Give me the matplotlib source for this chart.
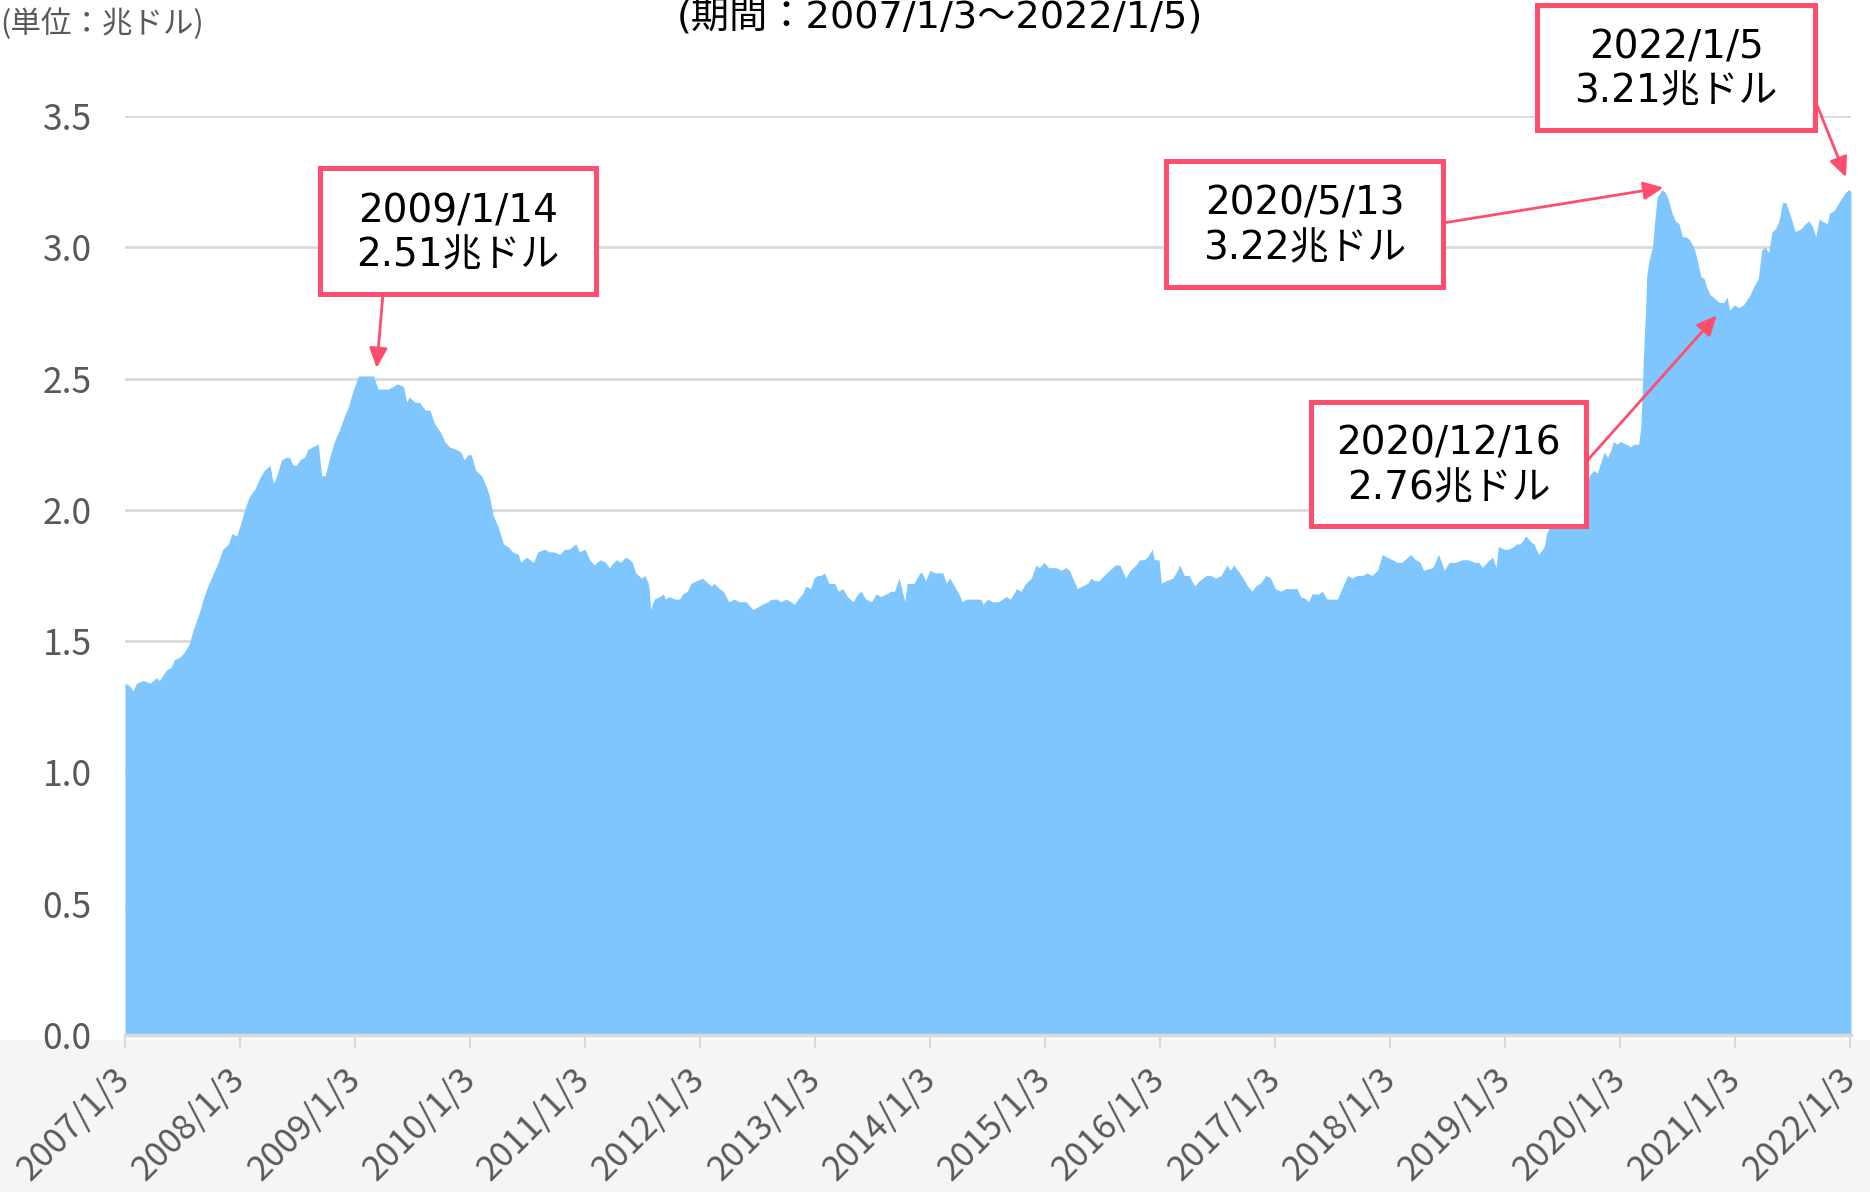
import numpy as np
import pandas as pd
import matplotlib
matplotlib.use("Agg")
import matplotlib.pyplot as plt
import matplotlib.dates as mdates
from matplotlib.patches import Rectangle
from matplotlib.transforms import offset_copy

plt.rcParams['font.family'] = ['Noto Sans CJK JP', 'DejaVu Sans']

# 週次の資産残高（兆ドル）: 位置は年（2007/1/3起点の年数を小数で）
years = np.array([
    2007.00, 2007.04, 2007.07, 2007.10, 2007.16, 2007.22, 2007.27, 2007.30, 2007.36, 2007.40, 2007.43, 2007.48,
    2007.52, 2007.56, 2007.59, 2007.64, 2007.68, 2007.72, 2007.77, 2007.81, 2007.85, 2007.90, 2007.93, 2007.97,
    2008.00, 2008.04, 2008.08, 2008.13, 2008.17, 2008.21, 2008.26, 2008.29, 2008.32, 2008.36, 2008.40, 2008.43,
    2008.46, 2008.49, 2008.52, 2008.56, 2008.59, 2008.63, 2008.68, 2008.71, 2008.74, 2008.78, 2008.82, 2008.87,
    2008.91, 2008.94, 2008.98,
    2009.03, 2009.07, 2009.11, 2009.16, 2009.20, 2009.24, 2009.29, 2009.33, 2009.37, 2009.42, 2009.45, 2009.47,
    2009.52, 2009.56, 2009.61, 2009.65, 2009.69, 2009.72, 2009.75, 2009.78, 2009.82, 2009.88, 2009.92, 2009.95,
    2009.98,
    2010.01, 2010.05, 2010.10, 2010.14, 2010.17, 2010.20, 2010.24, 2010.29, 2010.33, 2010.37, 2010.42, 2010.44,
    2010.49, 2010.55, 2010.59, 2010.65, 2010.69, 2010.73, 2010.78, 2010.82, 2010.86, 2010.92, 2010.95,
    2011.00, 2011.04, 2011.08, 2011.13, 2011.18, 2011.21, 2011.27, 2011.31, 2011.35, 2011.39, 2011.41, 2011.44,
    2011.49, 2011.52, 2011.55, 2011.56, 2011.57, 2011.60, 2011.65, 2011.68, 2011.70, 2011.73, 2011.78, 2011.82,
    2011.85, 2011.89, 2011.92, 2011.97,
    2012.02, 2012.07, 2012.10, 2012.12, 2012.17, 2012.20, 2012.25, 2012.30, 2012.34, 2012.40, 2012.46, 2012.50,
    2012.54, 2012.59, 2012.62, 2012.67, 2012.70, 2012.75, 2012.79, 2012.82, 2012.85, 2012.89, 2012.92, 2012.96,
    2012.99,
    2013.02, 2013.05, 2013.08, 2013.12, 2013.17, 2013.20, 2013.24, 2013.28, 2013.33, 2013.37, 2013.40, 2013.44,
    2013.49, 2013.53, 2013.57, 2013.62, 2013.66, 2013.69, 2013.73, 2013.78, 2013.80, 2013.86, 2013.91, 2013.93,
    2013.96,
    2014.00, 2014.04, 2014.08, 2014.11, 2014.14, 2014.17, 2014.21, 2014.25, 2014.28, 2014.31, 2014.35, 2014.40,
    2014.44, 2014.46, 2014.50, 2014.54, 2014.59, 2014.63, 2014.66, 2014.70, 2014.75, 2014.79, 2014.83, 2014.88,
    2014.92, 2014.95, 2014.99,
    2015.03, 2015.09, 2015.14, 2015.18, 2015.21, 2015.24, 2015.28, 2015.32, 2015.37, 2015.40, 2015.43, 2015.47,
    2015.51, 2015.56, 2015.61, 2015.65, 2015.70, 2015.74, 2015.79, 2015.82, 2015.86, 2015.89, 2015.93, 2015.95,
    2015.99,
    2016.01, 2016.05, 2016.11, 2016.15, 2016.17, 2016.21, 2016.25, 2016.30, 2016.34, 2016.40, 2016.44, 2016.48,
    2016.53, 2016.58, 2016.61, 2016.64, 2016.69, 2016.72, 2016.76, 2016.80, 2016.83, 2016.87, 2016.92, 2016.96,
    2017.00, 2017.05, 2017.09, 2017.15, 2017.19, 2017.22, 2017.27, 2017.29, 2017.32, 2017.38, 2017.41, 2017.45,
    2017.50, 2017.54, 2017.58, 2017.63, 2017.67, 2017.71, 2017.76, 2017.80, 2017.84, 2017.89, 2017.93, 2017.97,
    2018.02, 2018.06, 2018.10, 2018.18, 2018.22, 2018.26, 2018.29, 2018.37, 2018.42, 2018.47, 2018.51, 2018.57,
    2018.63, 2018.68, 2018.73, 2018.77, 2018.80, 2018.84, 2018.89, 2018.92, 2018.94, 2018.99,
    2019.03, 2019.07, 2019.10, 2019.13, 2019.18, 2019.22, 2019.25, 2019.29, 2019.34, 2019.36, 2019.41, 2019.47,
    2019.52, 2019.58, 2019.70, 2019.73, 2019.77, 2019.80, 2019.83, 2019.86, 2019.89, 2019.92, 2019.94, 2019.97,
    2020.00, 2020.05, 2020.09, 2020.12, 2020.16, 2020.18, 2020.19, 2020.20, 2020.22, 2020.23, 2020.25, 2020.28,
    2020.30, 2020.32, 2020.35, 2020.36, 2020.39, 2020.42, 2020.45, 2020.48, 2020.51, 2020.54, 2020.57, 2020.60,
    2020.64, 2020.67, 2020.70, 2020.73, 2020.75, 2020.78, 2020.81, 2020.86, 2020.90, 2020.93, 2020.95, 2020.99,
    2021.03, 2021.07, 2021.10, 2021.13, 2021.16, 2021.20, 2021.23, 2021.26, 2021.29, 2021.32, 2021.35, 2021.38,
    2021.41, 2021.44, 2021.48, 2021.52, 2021.57, 2021.61, 2021.64, 2021.67, 2021.70, 2021.73, 2021.75, 2021.80,
    2021.82, 2021.86, 2021.90, 2021.93, 2021.96, 2021.99, 2022.006,
])
assets = np.array([
    1.34, 1.33, 1.31, 1.34, 1.35, 1.34, 1.36, 1.35, 1.39, 1.40, 1.43, 1.44,
    1.46, 1.49, 1.54, 1.60, 1.66, 1.71, 1.76, 1.80, 1.85, 1.87, 1.91, 1.90,
    1.94, 2.00, 2.05, 2.08, 2.12, 2.15, 2.17, 2.10, 2.13, 2.19, 2.20, 2.20,
    2.17, 2.17, 2.19, 2.20, 2.23, 2.24, 2.25, 2.13, 2.13, 2.20, 2.26, 2.31,
    2.36, 2.39, 2.45,
    2.51, 2.51, 2.51, 2.51, 2.46, 2.46, 2.46, 2.47, 2.48, 2.47, 2.41, 2.43,
    2.41, 2.41, 2.38, 2.38, 2.33, 2.31, 2.29, 2.26, 2.24, 2.23, 2.22, 2.19,
    2.21,
    2.21, 2.15, 2.13, 2.09, 2.05, 1.98, 1.94, 1.87, 1.86, 1.84, 1.83, 1.80,
    1.82, 1.80, 1.84, 1.85, 1.84, 1.84, 1.83, 1.85, 1.85, 1.87, 1.84,
    1.85, 1.81, 1.79, 1.81, 1.80, 1.78, 1.81, 1.80, 1.82, 1.81, 1.80, 1.76,
    1.74, 1.75, 1.72, 1.69, 1.62, 1.66, 1.67, 1.68, 1.66, 1.67, 1.66, 1.66,
    1.68, 1.69, 1.72, 1.73,
    1.74, 1.72, 1.71, 1.72, 1.70, 1.69, 1.65, 1.66, 1.65, 1.65, 1.62, 1.63,
    1.64, 1.65, 1.66, 1.66, 1.65, 1.66, 1.65, 1.64, 1.66, 1.68, 1.71, 1.70,
    1.74,
    1.75, 1.75, 1.76, 1.72, 1.72, 1.69, 1.70, 1.67, 1.65, 1.68, 1.69, 1.66,
    1.65, 1.68, 1.67, 1.68, 1.69, 1.69, 1.74, 1.65, 1.72, 1.72, 1.76, 1.76,
    1.73,
    1.77, 1.76, 1.76, 1.76, 1.72, 1.74, 1.71, 1.68, 1.65, 1.66, 1.66, 1.66,
    1.66, 1.64, 1.66, 1.65, 1.65, 1.66, 1.67, 1.66, 1.70, 1.69, 1.72, 1.74,
    1.79, 1.78, 1.80,
    1.78, 1.78, 1.77, 1.78, 1.77, 1.74, 1.70, 1.71, 1.72, 1.74, 1.73, 1.73,
    1.75, 1.77, 1.79, 1.79, 1.74, 1.77, 1.79, 1.81, 1.81, 1.82, 1.85, 1.81,
    1.81,
    1.72, 1.73, 1.74, 1.77, 1.79, 1.75, 1.75, 1.71, 1.73, 1.75, 1.75, 1.74,
    1.75, 1.79, 1.77, 1.79, 1.76, 1.74, 1.71, 1.69, 1.71, 1.72, 1.75, 1.74,
    1.70, 1.69, 1.70, 1.70, 1.70, 1.67, 1.66, 1.65, 1.68, 1.68, 1.69, 1.66,
    1.66, 1.66, 1.70, 1.75, 1.74, 1.75, 1.75, 1.76, 1.75, 1.77, 1.83, 1.82,
    1.81, 1.80, 1.80, 1.83, 1.81, 1.80, 1.77, 1.78, 1.83, 1.77, 1.80, 1.80,
    1.81, 1.81, 1.80, 1.80, 1.78, 1.80, 1.82, 1.78, 1.86, 1.85,
    1.85, 1.86, 1.87, 1.87, 1.90, 1.88, 1.87, 1.83, 1.86, 1.91, 1.96, 2.01,
    2.06, 2.10, 2.08, 2.13, 2.15, 2.14, 2.18, 2.22, 2.20, 2.23, 2.26, 2.25,
    2.26, 2.25, 2.24, 2.25, 2.25, 2.32, 2.44, 2.57, 2.76, 2.89, 2.95, 3.00,
    3.10, 3.19, 3.21, 3.22, 3.21, 3.18, 3.13, 3.10, 3.09, 3.04, 3.04, 3.03,
    3.00, 2.95, 2.89, 2.88, 2.85, 2.82, 2.81, 2.79, 2.79, 2.81, 2.76, 2.78,
    2.77, 2.78, 2.80, 2.82, 2.85, 2.88, 2.99, 3.00, 2.98, 3.06, 3.07, 3.10,
    3.17, 3.17, 3.12, 3.06, 3.07, 3.09, 3.10, 3.08, 3.04, 3.11, 3.10, 3.09,
    3.13, 3.14, 3.17, 3.19, 3.21, 3.22, 3.21,
])

tick_years = list(range(2007, 2023))
tick_labels = [f"{y}/1/3" for y in tick_years]

annot_dates = ['2009-01-14', '2020-05-13', '2020-12-16', '2022-01-05']
annot_values = [2.51, 3.22, 2.76, 3.21]

title = "(期間：2007/1/3～2022/1/5)"
unit_label = "(単位：兆ドル)"

W, H = 1870, 1192
red = '#ff4d6d'
gray = '#595959'
box_font = ['DejaVu Sans', 'Noto Sans CJK JP']

start = pd.Timestamp('2007-01-03')
dates = start + pd.to_timedelta((years - 2007) * 365.25, unit='D')

fig = plt.figure(figsize=(W / 100, H / 100), dpi=100)
# 下部の薄い背景
fig.add_artist(Rectangle((0, 0), 1, 1 - 1040 / H, transform=fig.transFigure,
                         fc='#f5f5f5', ec='none', zorder=-1))

ax = fig.add_axes([125 / W, 1 - 1035 / H, (1851 - 125) / W, (1035 - 116) / H])
ax.fill_between(dates, assets, 0, color='#7fc6fe', lw=0, zorder=2)

ax.set_xlim(start, pd.Timestamp('2022-01-05'))
ax.set_ylim(0, 3.5)
ax.set_yticks(np.arange(0, 3.51, 0.5))
ax.set_yticklabels([f"{v:.1f}" for v in np.arange(0, 3.51, 0.5)])
ax.set_xticks([pd.Timestamp(f"{y}-01-03") for y in tick_years])
ax.set_xticklabels(tick_labels, rotation=45, ha='right', va='center', rotation_mode='anchor')

ax.yaxis.grid(True, color='#d9d9d9', lw=2)
ax.set_axisbelow(True)
for s in ['top', 'right', 'left']:
    ax.spines[s].set_visible(False)
ax.spines['bottom'].set_color('#d9d9d9')
ax.spines['bottom'].set_linewidth(2.5)
ax.spines['bottom'].set_zorder(3)
ax.tick_params(axis='y', length=0, pad=24, labelsize=25.5, labelcolor=gray)
ax.tick_params(axis='x', length=9, width=1.5, color='#d9d9d9', pad=19,
               labelsize=25, labelcolor=gray)

fig.text(940 / W, 1 - 18 / H, title, ha='center', va='center', fontsize=27.5,
         family=box_font)
fig.text(0, 1 - 24 / H, unit_label, ha='left', va='center', fontsize=22, color=gray)

# 注記ボックス (左, 上, 右, 下) ピクセル
boxes = [(320, 168, 596, 294), (1166, 161, 1443, 287), (1311, 402, 1586, 526), (1537, 5, 1815, 130)]
tails = [(383, 294), (1443, 223), (1586, 462), (1815, 100)]
tip_offsets = [(18, 8), (2, 2), (-13, -5), (-5, 15)]

for d, v, (x0, y0, x1, y1), (tx, ty), (dx, dy) in zip(annot_dates, annot_values, boxes, tails, tip_offsets):
    dt = pd.Timestamp(d)
    label = f"{dt.year}/{dt.month}/{dt.day}\n{v:.2f}兆ドル"
    fig.add_artist(Rectangle((x0 / W, 1 - y1 / H), (x1 - x0) / W, (y1 - y0) / H,
                             transform=fig.transFigure, fc='white', ec=red, lw=3.6, zorder=5))
    fig.text((x0 + x1) / 2 / W, 1 - (y0 + y1 + 4) / 2 / H, label, ha='center', va='center',
             fontsize=28, linespacing=1.2, family=box_font, zorder=6)
    ax.annotate('', xy=(mdates.date2num(dt), v),
                xycoords=offset_copy(ax.transData, fig=fig, x=dx, y=dy, units='dots'),
                xytext=(tx / W, 1 - ty / H), textcoords='figure fraction',
                arrowprops=dict(arrowstyle='-|>,head_length=1.2,head_width=0.55', mutation_scale=10,
                                color=red, lw=2, shrinkA=0, shrinkB=0),
                annotation_clip=False, zorder=4)

fig.savefig('out.png', dpi=100)
